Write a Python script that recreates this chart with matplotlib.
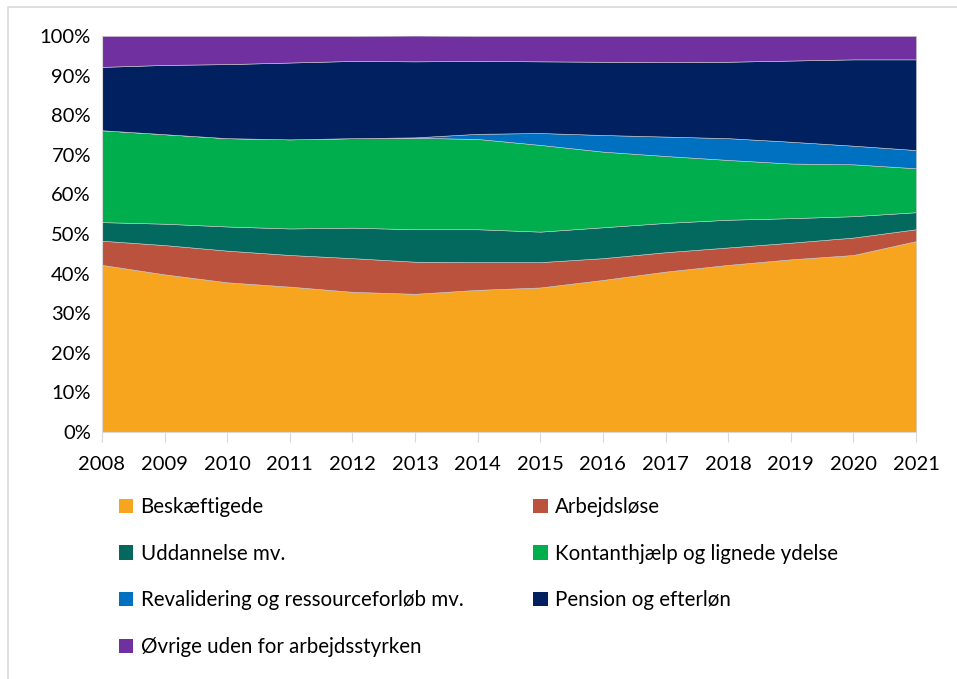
import matplotlib.pyplot as plt
from matplotlib.patches import Patch, Rectangle
from matplotlib.ticker import PercentFormatter

years = list(range(2008, 2022))

beskaeftigede = [42.2, 39.8, 37.8, 36.7, 35.4, 34.9, 35.9, 36.5, 38.4, 40.5, 42.2, 43.6, 44.7, 48.2]
arbejdslose = [6.1, 7.4, 8.0, 8.0, 8.5, 8.1, 7.0, 6.4, 5.5, 4.9, 4.4, 4.2, 4.4, 3.0]
uddannelse = [4.7, 5.4, 6.1, 6.7, 7.7, 8.2, 8.3, 7.7, 7.8, 7.4, 7.0, 6.2, 5.4, 4.3]
kontanthjaelp = [23.2, 22.6, 22.3, 22.5, 22.6, 23.1, 22.8, 21.9, 19.1, 16.9, 15.1, 13.8, 13.1, 11.1]
revalidering = [0.0, 0.0, 0.0, 0.0, 0.0, 0.1, 1.3, 3.0, 4.2, 4.9, 5.5, 5.5, 4.7, 4.6]
pension = [16.0, 17.5, 18.7, 19.4, 19.5, 19.2, 18.4, 18.1, 18.5, 18.8, 19.3, 20.5, 21.8, 22.9]
ovrige = [7.8, 7.3, 7.1, 6.7, 6.3, 6.5, 6.3, 6.4, 6.5, 6.6, 6.5, 6.2, 5.9, 5.9]

labels = ["Beskæftigede", "Arbejdsløse", "Uddannelse mv.", "Kontanthjælp og lignede ydelse",
          "Revalidering og ressourceforløb mv.", "Pension og efterløn", "Øvrige uden for arbejdsstyrken"]
colors = ["#f7a51e", "#bb523e", "#03695f", "#00ae4d", "#0070c0", "#00205f", "#7030a0"]

plt.rcParams['font.family'] = ['Lato', 'DejaVu Sans']

fig = plt.figure(figsize=(9.57, 6.79), dpi=100)
ax = fig.add_axes([102 / 957, 1 - 432 / 679, 814 / 957, 396 / 679])

series = [beskaeftigede, arbejdslose, uddannelse, kontanthjaelp, revalidering, pension, ovrige]
ax.stackplot(years, *series, colors=colors, labels=labels, edgecolor='#c8c8c8', linewidth=0.4)

ax.set_xlim(2008, 2021)
ax.set_ylim(0, 100)
ax.set_xticks(years)
ax.set_yticks(range(0, 101, 10))
ax.yaxis.set_major_formatter(PercentFormatter(decimals=0))
ax.tick_params(axis='x', length=7, color='#d9d9d9', labelsize=14.5, pad=10, direction='out')
ax.tick_params(axis='y', length=0, labelsize=14.5, pad=8)
for s in ['top', 'right']:
    ax.spines[s].set_visible(False)
ax.spines['left'].set_color('#d9d9d9')
ax.spines['bottom'].set_color('#d9d9d9')

# outer frame (left and top edge visible)
fig.patches.append(Rectangle((8 / 957, -0.1), 1.2, 1.1 - 7 / 679, transform=fig.transFigure,
                             fill=False, edgecolor='#d9d9d9', linewidth=1.2))

handles = [Patch(facecolor=c, label=l) for c, l in zip(colors, labels)]
order = [0, 2, 4, 6, 1, 3, 5]
fig.legend([handles[i] for i in order], [labels[i] for i in order], ncol=2,
           loc='upper left', bbox_to_anchor=(119 / 957, 1 - 497 / 679), frameon=False,
           fontsize=14.8, handlelength=0.7, handleheight=0.7, handletextpad=0.35,
           labelspacing=1.3, columnspacing=3.4, borderaxespad=0, borderpad=0)

fig.savefig('out.png', dpi=100)
